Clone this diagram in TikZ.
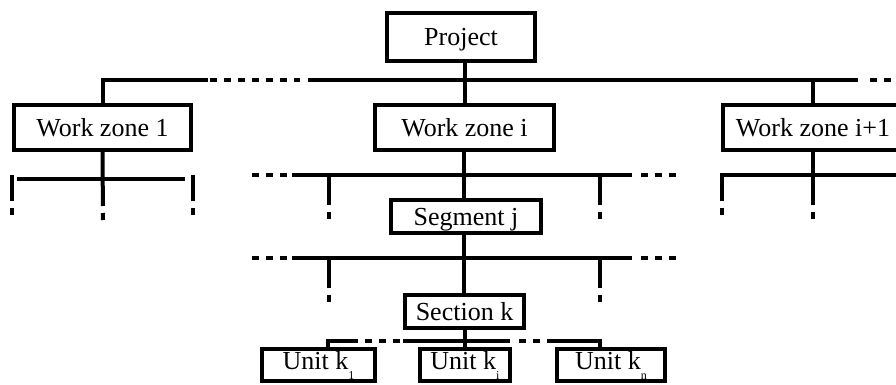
\documentclass[tikz,border=0pt]{standalone}
\usepackage{fontspec}
\setmainfont{Liberation Serif}

\tikzset{
	box/.style={draw,rectangle,inner sep=0pt,text height=17pt,text depth=0pt,font=\fontsize{26}{30}\selectfont},
	unitbox/.style={box,text depth=8pt},
	gapline/.style={dash pattern=on 7pt off 7pt},
	stubline/.style={dash pattern=on 7pt off 7pt on 400pt}
}
\newcommand{\subk}[1]{\raisebox{-10pt}{\fontsize{12}{12}\selectfont #1}}

\begin{document}
\begin{tikzpicture}[x=1pt,y=-1pt,line width=4pt]

\useasboundingbox (0,0) rectangle (896,385);

% The boxes
\node[box,minimum width=148pt,minimum height=48pt] (proj) at (461,37) {Project};
\node[box,minimum width=177pt,minimum height=45pt] (wz1) at (102.5,127.5) {Work zone 1};
\node[box,minimum width=179pt,minimum height=45pt] (wzi) at (464.5,127.5) {Work zone i};
\node[box,minimum width=180pt,minimum height=45pt] (wzn) at (813,127.5) {Work zone i+1};
\node[box,minimum width=150pt,minimum height=33pt] (seg) at (466,216.5) {Segment j};
\node[box,minimum width=119pt,minimum height=33pt] (sec) at (464.5,311.5) {Section k};
\node[unitbox,minimum width=113pt,minimum height=32pt] (u1) at (318.5,365) {Unit k\subk{1}};
\node[unitbox,minimum width=90pt,minimum height=32pt] (ui) at (465,365) {Unit k\subk{i}};
\node[unitbox,minimum width=108pt,minimum height=32pt] (un) at (611,365) {Unit k\subk{n}};

% The bus levels
\coordinate (topbus) at (0,80);
\coordinate (zonebus) at (0,175);
\coordinate (segbus) at (0,258);
\coordinate (ua) at (328,341);
\coordinate (ub) at (600,341);

% Project level
\draw (wz1.north) -- (wz1.north |- topbus) -- (208,80);
\draw[gapline] (210,80) -- (300,80);
\draw (308,80) -- (858,80);
\draw[gapline] (870,80) -- (900,80);
\draw (proj.south -| wzi.north) -- (wzi.north);
\draw (wzn.north |- topbus) -- (wzn.north);

% Work zone 1
\draw (17,179) -- (185,179);
\draw[stubline] (103,220) -- (wz1.south);
\foreach \xx in {12,193}
{
	\draw[stubline] (\xx,215) -- (\xx,175);
}

% Work zone i and segment j
\foreach \yy in {175,258}
{
	\draw[gapline] (252,\yy) -- (292,\yy);
	\draw (292,\yy) -- (632,\yy);
	\draw[gapline] (641,\yy) -- (677,\yy);
}
\foreach \xx in {329,600}
{
	\draw[stubline] (\xx,219) -- (\xx,175);
	\draw[stubline] (\xx,302) -- (\xx,258);
}
\draw (wzi.south -| 464,0) -- (seg.north -| 464,0);
\draw (seg.south -| 464,0) -- (sec.north -| 464,0);

% Work zone i+1
\draw[stubline] (722,215) -- (722,175) -- (900,175);
\draw[stubline] (813,219) -- (wzn.south);

% Section k
\draw (ua |- u1.north) -- (ua) -- (358,341);
\draw[gapline] (365,341) -- (400,341);
\draw (403,341) -- (510,341);
\draw[gapline] (519,341) -- (548,341);
\draw (548,341) -- (ub) -- (ub |- un.north);
\draw (sec.south) -- (sec.south |- ui.north);

\end{tikzpicture}
\end{document}
